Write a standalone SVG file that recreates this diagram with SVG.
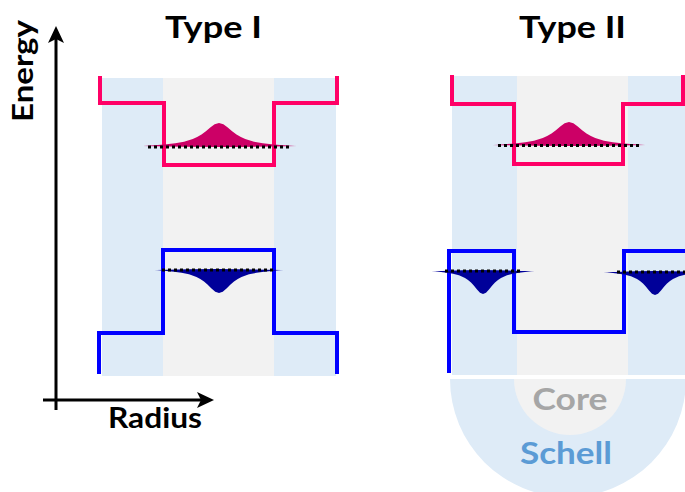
<svg xmlns="http://www.w3.org/2000/svg" xmlns:xlink="http://www.w3.org/1999/xlink" width="685" height="492" viewBox="0 0 685 492">
<style>
.shell{fill:#deebf7}
.core{fill:#f2f2f2}
.cb{fill:none;stroke:#ff0066;stroke-width:4;stroke-linejoin:miter}
.vb{fill:none;stroke:#0000ff;stroke-width:4;stroke-linejoin:miter}
.dot{stroke:#000;stroke-width:3;stroke-dasharray:3 3;fill:none}
.pk{fill:#cc0066}
.bl{fill:#000099}
.lbl{font-family:Lato,"Open Sans","DejaVu Sans",sans-serif;font-weight:bold;text-anchor:middle}
.ax{stroke:#000;stroke-width:3;fill:none}
</style>
<defs>
<path id="g" d="M-4.3,0 L-4,-0.015 L-3.5,-0.042 L-3,-0.076 L-2.5,-0.122 L-2,-0.19 L-1.5,-0.303 L-1.25,-0.388 L-1,-0.498 L-0.75,-0.64 L-0.5,-0.8 L-0.25,-0.941 L0,-1 L0.25,-0.941 L0.5,-0.8 L0.75,-0.64 L1,-0.498 L1.25,-0.388 L1.5,-0.303 L2,-0.19 L2.5,-0.122 L3,-0.076 L3.5,-0.042 L4,-0.015 L4.3,0 Z"/>
<path id="lens" d="M-1,0 Q0,-3 1,0 Q0,3 -1,0 Z"/>
</defs>

<g id="typeI-background">
<rect class="shell" x="102" y="78" width="61" height="298"/>
<rect class="core" x="163" y="78" width="111" height="298"/>
<rect class="shell" x="274" y="78" width="62" height="298"/>
</g>
<g id="typeII-background">
<rect class="shell" x="452" y="76" width="65" height="299"/>
<rect class="core" x="517" y="76" width="111" height="299"/>
<rect class="shell" x="628" y="76" width="57" height="299"/>
</g>

<g id="core-shell-sketch">
<path class="shell" d="M450,379 A118,118 0 0 0 686,379 Z"/>
<path class="core" d="M514,379 A56,56 0 0 0 626,379 Z"/>
<text class="lbl" x="570" y="410" font-size="30" fill="#a6a6a6" textLength="75" lengthAdjust="spacingAndGlyphs">Core</text>
<text class="lbl" x="566" y="464" font-size="30" fill="#5b9bd5" textLength="92" lengthAdjust="spacingAndGlyphs">Schell</text>
</g>

<g id="typeI-conduction">
<path class="cb" d="M100,76 V103 H164 V165 H274 V103 H337 V76"/>
<use xlink:href="#lens" class="pk" transform="translate(219.5,146) scale(77.5,0.6)"/>
<use xlink:href="#g" class="pk" transform="translate(219,146) scale(17.5,23)"/>
<line class="dot" x1="148" y1="147" x2="291" y2="147"/>
</g>
<g id="typeI-valence">
<path class="vb" d="M99,374 V333 H163 V250 H274 V333 H337 V374"/>
<use xlink:href="#lens" class="bl" transform="translate(219,270) scale(62,0.6)"/>
<use xlink:href="#g" class="bl" transform="translate(219,270) scale(15,-23)"/>
<line class="dot" x1="162" y1="270" x2="276" y2="270"/>
</g>

<g id="typeII-conduction">
<path class="cb" d="M452,75 V104 H514 V164 H623 V104 H683 V75"/>
<use xlink:href="#lens" class="pk" transform="translate(569,145) scale(77,0.6)"/>
<use xlink:href="#g" class="pk" transform="translate(569,145) scale(17.5,23)"/>
<line class="dot" x1="498" y1="145.5" x2="640" y2="145.5"/>
</g>
<g id="typeII-valence">
<path class="vb" d="M449,373 V251 H514 V332 H624 V251 H687 V373"/>
<use xlink:href="#lens" class="bl" transform="translate(482,271) scale(40,0.6)"/>
<use xlink:href="#g" class="bl" transform="translate(483,271) scale(12,-23)"/>
<line class="dot" x1="445" y1="271" x2="520" y2="271"/>
<use xlink:href="#lens" class="bl" transform="translate(655,272) scale(40,0.6)"/>
<use xlink:href="#g" class="bl" transform="translate(655,272) scale(12,-23)"/>
<line class="dot" x1="617" y1="272" x2="688" y2="272"/>
</g>

<g id="connectors">
<line class="ax" x1="56" y1="410" x2="56" y2="36"/>
<path d="M56,26 L64,43 L56,39 L48,43 Z" fill="#000"/>
<line class="ax" x1="43" y1="400" x2="204" y2="400"/>
<path d="M214,400 L197,408 L201,400 L197,392 Z" fill="#000"/>
</g>

<g id="labels">
<text class="lbl" x="213.5" y="38" font-size="30" textLength="97" lengthAdjust="spacingAndGlyphs">Type I</text>
<text class="lbl" x="572.5" y="38" font-size="30" textLength="107" lengthAdjust="spacingAndGlyphs">Type II</text>
<text class="lbl" font-size="28" transform="translate(33,71) rotate(-90)" textLength="102" lengthAdjust="spacingAndGlyphs">Energy</text>
<text class="lbl" x="155" y="428" font-size="28" textLength="94" lengthAdjust="spacingAndGlyphs">Radius</text>
</g>
</svg>
